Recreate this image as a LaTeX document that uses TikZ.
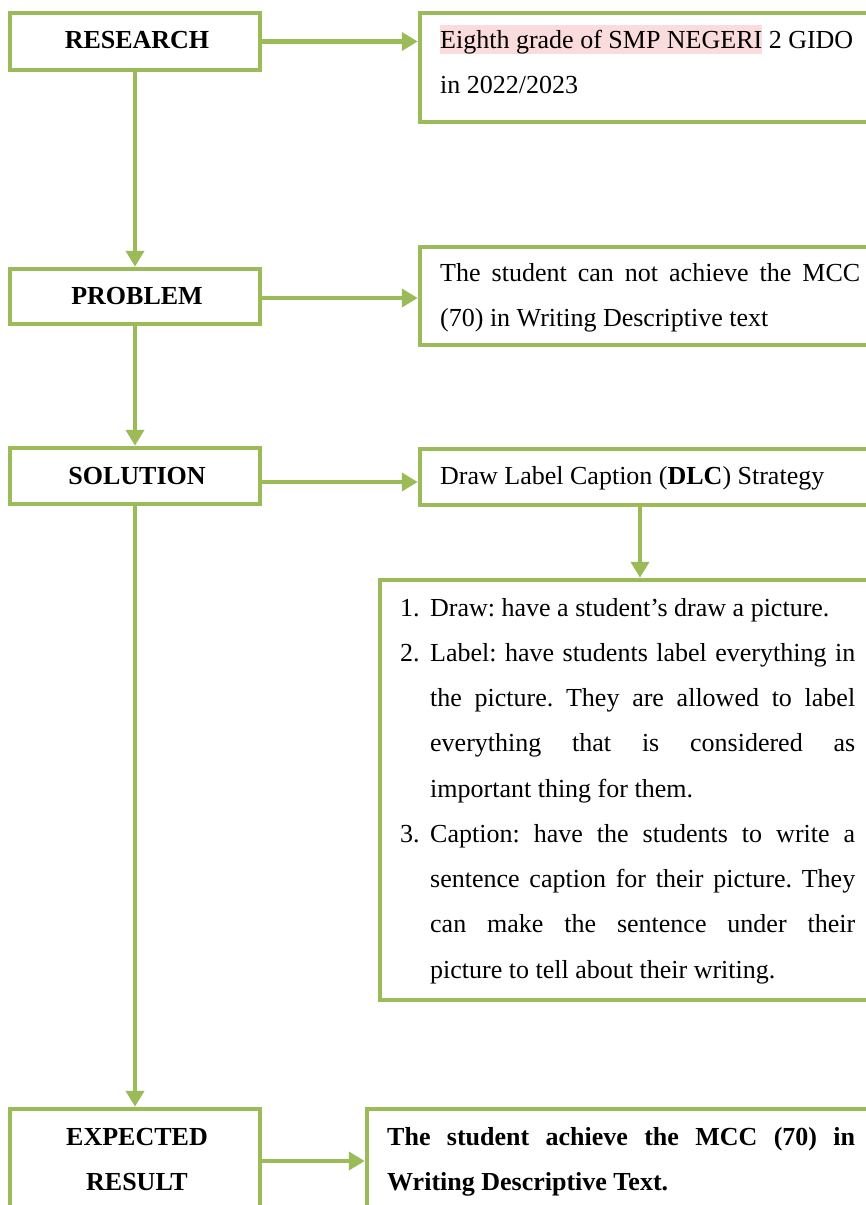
\documentclass[tikz,border=0pt]{standalone}
\usepackage{fontspec}
\setmainfont{Liberation Serif}
\usetikzlibrary{arrows.meta}
\definecolor{olivegr}{RGB}{155,187,89}
\definecolor{hlpink}{RGB}{251,220,220}
\frenchspacing
\begin{document}
\begin{tikzpicture}[x=1pt,y=-1pt,
  box/.style={draw=olivegr,line width=4.5pt,inner sep=0pt,fill=white},
  conn/.style={draw=olivegr,line width=4.5pt,-{Triangle[length=16pt,width=18pt]}},
  lab/.style={font=\fontsize{26}{45.25}\selectfont\bfseries,inner sep=0pt,anchor=base},
  txt/.style={font=\fontsize{26}{45.25}\selectfont\frenchspacing,inner sep=0pt,anchor=base west}]
\useasboundingbox (0,0) rectangle (866,1205);
\clip (0,0) rectangle (866,1205);
% left column boxes
\node[box,minimum width=250pt,minimum height=57pt] (research) at (135,41.5) {};
\node[box,minimum width=250pt,minimum height=55pt] (problem) at (135,296.5) {};
\node[box,minimum width=250pt,minimum height=56pt] (solution) at (135,476) {};
\node[box,minimum width=250pt,minimum height=101pt] (expected) at (135,1159.5) {};
% right column boxes
\node[box,minimum width=460pt,minimum height=109pt] (r1) at (650,67.5) {};
\node[box,minimum width=460pt,minimum height=98pt] (r2) at (650,296) {};
\node[box,minimum width=460pt,minimum height=56pt] (r3) at (650,477) {};
\node[box,minimum width=500pt,minimum height=420pt] (list) at (630,790) {};
\node[box,minimum width=513pt,minimum height=101pt] (r5) at (623.5,1159.5) {};
\coordinate (dlcx) at (640,0);
% connectors
\draw[conn] (research.south) -- (problem.north);
\draw[conn] (problem.south) -- (solution.north);
\draw[conn] (solution.south) -- (expected.north);
\draw[conn] (research.east) -- (research.east -| r1.west);
\draw[conn] ([yshift=-1.5pt]problem.east) -- ([yshift=-1.5pt]problem.east -| r2.west);
\draw[conn] ([yshift=-6pt]solution.east) -- ([yshift=-6pt]solution.east -| r3.west);
\draw[conn] ([yshift=-1.5pt]expected.east) -- ([yshift=-1.5pt]expected.east -| r5.west);
\draw[conn] (r3.south -| dlcx) -- (list.north -| dlcx);
% labels
\node[lab] (tresearch) at (137,48) {RESEARCH};
\node[lab] (tproblem) at (137,304) {PROBLEM};
\node[lab] (tsolution) at (137,484) {SOLUTION};
\node[lab] (texpected) at (137,1145) {EXPECTED};
\node[lab] (tresult) at (137,1190) {RESULT};
% texts
\node[txt,text width=440pt,align=flush left] (t1) at (440,48) {{\setlength{\fboxsep}{0pt}\colorbox{hlpink}{\rule[-6pt]{0pt}{29pt}Eighth grade of SMP NEGERI}} 2 GIDO\\in 2022/2023};
\node[txt,text width=420pt,align=justify] (t2) at (440,281) {The student can not achieve the MCC\linebreak (70) in Writing Descriptive text};
\node[txt] (t3) at (440,484) {Draw Label Caption (\textbf{DLC}) Strategy};
\node[txt,text width=455pt,align=justify] (t4) at (400,616) {\setlength{\parindent}{0pt}%
\hangindent=30pt\hangafter=1\makebox[30pt][l]{1.}Draw: have a student’s draw a picture.\par
\hangindent=30pt\hangafter=1\makebox[30pt][l]{2.}Label: have students label everything in\linebreak the picture. They are allowed to label\linebreak everything that is considered as\linebreak important thing for them.\par
\hangindent=30pt\hangafter=1\makebox[30pt][l]{3.}Caption: have the students to write a\linebreak sentence caption for their picture. They\linebreak can make the sentence under their\linebreak picture to tell about their writing.\par};
\node[txt,text width=468pt,align=justify,font=\fontsize{26}{45.25}\selectfont\bfseries] (t5) at (387,1145) {The student achieve the MCC (70) in\linebreak Writing Descriptive Text.};
\end{tikzpicture}
\end{document}
